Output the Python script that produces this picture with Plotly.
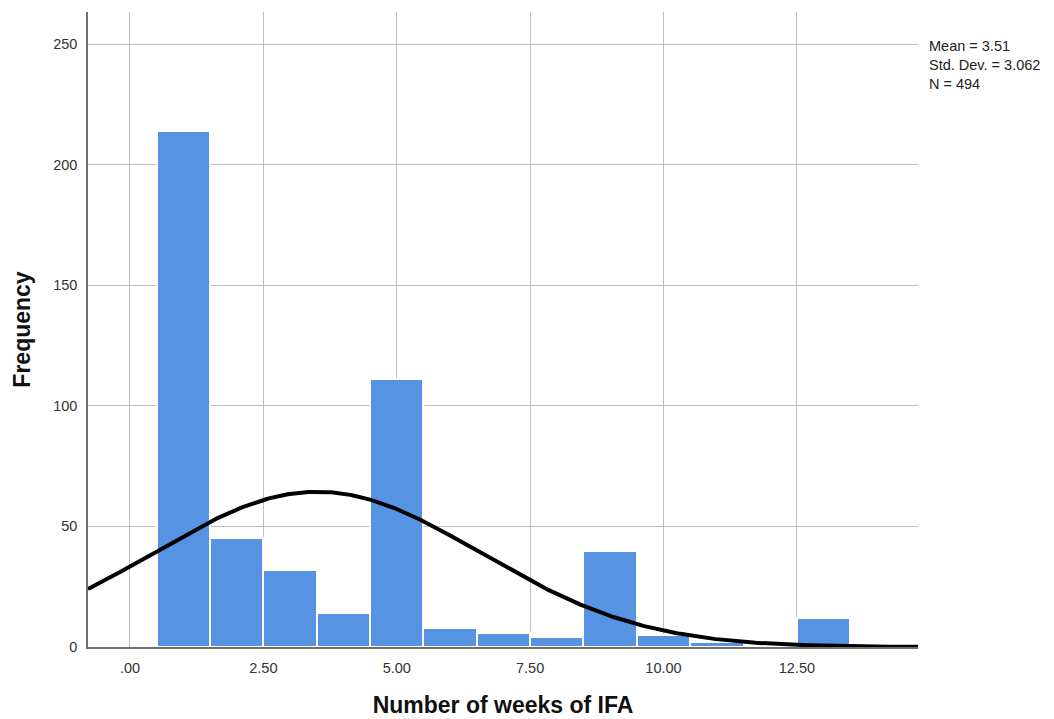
import numpy as np
import plotly.graph_objects as go

# Histogram of weeks of IFA (bin width 1, centred on whole weeks)
bin_centers = [1, 2, 3, 4, 5, 6, 7, 8, 9, 10, 11, 12, 13]
frequencies = [214, 45, 32, 14, 111, 8, 6, 4, 40, 5, 2, 1, 12]

mean_val = 3.51
std_dev = 3.062
n_total = 494
bin_width = 1.0

x_tick_vals = [0, 2.5, 5, 7.5, 10, 12.5]
x_tick_text = [".00", "2.50", "5.00", "7.50", "10.00", "12.50"]
y_tick_vals = [0, 50, 100, 150, 200, 250]

x_min, x_max = -0.787, 14.77
y_max = 263.3

# Fitted normal curve scaled to counts
xs = np.linspace(x_min, x_max, 400)
ys = n_total * bin_width / (std_dev * np.sqrt(2 * np.pi)) * np.exp(-0.5 * ((xs - mean_val) / std_dev) ** 2)

fig = go.Figure()
fig.add_trace(go.Bar(
    x=bin_centers, y=frequencies, width=bin_width,
    marker=dict(color="#5694E3", line=dict(color="white", width=2)),
    showlegend=False,
))
fig.add_trace(go.Scatter(
    x=xs, y=ys, mode="lines",
    line=dict(color="black", width=4),
    showlegend=False,
))

fig.update_layout(
    width=1054, height=719,
    margin=dict(l=88, r=136, t=12, b=72),
    paper_bgcolor="white", plot_bgcolor="white",
    font=dict(family="Liberation Sans, Arial, sans-serif", color="#222"),
    bargap=0,
)
fig.update_xaxes(
    range=[x_min, x_max], automargin=False,
    tickvals=x_tick_vals, ticktext=x_tick_text,
    tickfont=dict(size=14.5, color="#333"),
    ticks="", ticklabelstandoff=7,
    showgrid=True, gridcolor="#BEBEBE", gridwidth=1,
    showline=True, linecolor="#707070", linewidth=1.5,
    zeroline=False,
    title=dict(text="<b>Number of weeks of IFA</b>", font=dict(size=23, color="#111"), standoff=22),
)
fig.update_yaxes(
    range=[0, y_max], automargin=False,
    tickvals=y_tick_vals,
    tickfont=dict(size=14.5, color="#333"),
    ticks="", ticklabelstandoff=6,
    showgrid=True, gridcolor="#BEBEBE", gridwidth=1,
    showline=True, linecolor="#707070", linewidth=1.5,
    zeroline=False,
    title=dict(text="<b>Frequency</b>", font=dict(size=23, color="#111"), standoff=16),
)

fig.add_annotation(
    xref="paper", yref="paper", x=1.0, y=1.0, xshift=9, yshift=-24,
    xanchor="left", yanchor="top", align="left", showarrow=False,
    text=f"Mean = {mean_val:.2f}<br>Std. Dev. = {std_dev:.3f}<br>N = {n_total}",
    font=dict(size=14.5, color="#222"),
)

fig.write_html("out.html")
